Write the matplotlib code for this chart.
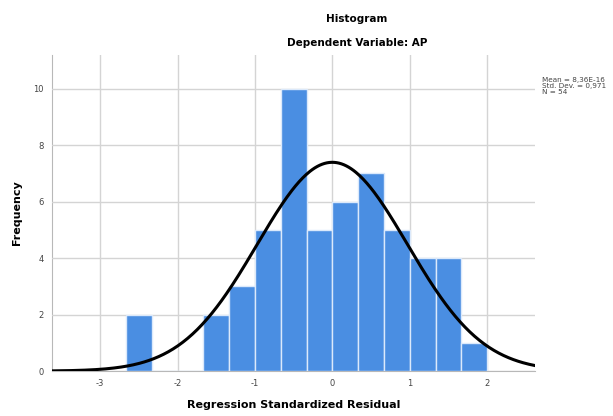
import numpy as np
import matplotlib.pyplot as plt

# histogram bins (width 1/3) and counts
bin_edges = [-8/3, -7/3, -2, -5/3, -4/3, -1, -2/3, -1/3, 0, 1/3, 2/3, 1, 4/3, 5/3, 2]
counts = [2, 0, 0, 2, 3, 5, 10, 5, 6, 7, 5, 4, 4, 1]
mean = 8.36e-16
std = 0.971
n = 54
x_ticks = [-3, -2, -1, 0, 1, 2]
y_ticks = [0, 2, 4, 6, 8, 10]

plt.rcParams['axes.unicode_minus'] = False

fig = plt.figure(figsize=(6.13, 4.16), dpi=100)
ax = fig.add_axes([0.085, 0.108, 0.788, 0.760])

widths = np.diff(bin_edges)
ax.bar(bin_edges[:-1], counts, width=widths, align='edge',
       color='#4a8ee2', edgecolor='#dbe9fb', linewidth=1.0, zorder=2)

bw = widths[0]
xs = np.linspace(-3.62, 2.62, 400)
ys = n * bw / (std * np.sqrt(2 * np.pi)) * np.exp(-0.5 * ((xs - mean) / std) ** 2)
ax.plot(xs, ys, color='black', lw=2.2, zorder=3)

ax.set_xlim(-3.62, 2.62)
ax.set_ylim(0, 11.2)
ax.set_xticks(x_ticks)
ax.set_yticks(y_ticks)
ax.tick_params(length=0, labelsize=6, labelcolor='#444444', pad=6)
ax.grid(True, color='#d4d4d4', lw=1.0, zorder=0)
for s in ['top', 'right']:
    ax.spines[s].set_visible(False)
for s in ['left', 'bottom']:
    ax.spines[s].set_color('#b8b8b8')
    ax.spines[s].set_zorder(1)

ax.set_xlabel('Regression Standardized Residual', fontsize=8, fontweight='bold', labelpad=8)
ax.set_ylabel('Frequency', fontsize=8, fontweight='bold', labelpad=8)

fig.text(0.582, 0.955, 'Histogram', ha='center', va='center', fontsize=7.5, fontweight='bold')
fig.text(0.582, 0.897, 'Dependent Variable: AP', ha='center', va='center', fontsize=7.5, fontweight='bold')
fig.text(0.884, 0.814, 'Mean = 8,36E-16\nStd. Dev. = 0,971\nN = 54', ha='left', va='top',
         fontsize=5.2, color='#444444', linespacing=0.95)

fig.savefig('out.png', dpi=100)
